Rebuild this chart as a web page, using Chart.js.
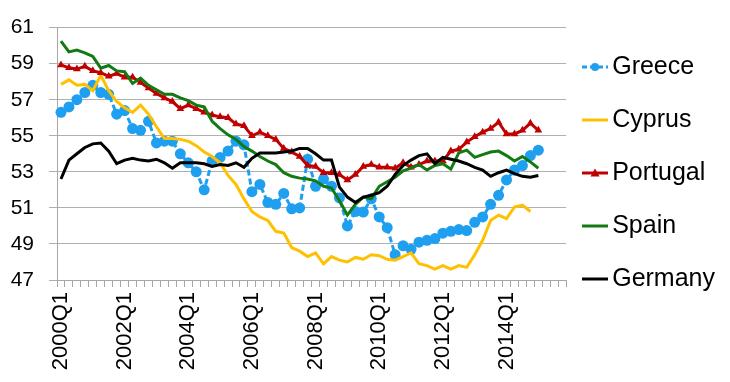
<!DOCTYPE html>
<html>
<head>
<meta charset="utf-8">
<script src="https://cdn.jsdelivr.net/npm/chart.js@4/dist/chart.umd.min.js"></script>
<style>
html,body{margin:0;padding:0;background:#fff;}
#wrap{width:730px;height:382px;}
</style>
</head>
<body>
<div id="wrap"><canvas id="c" width="730" height="382"></canvas></div>
<script>
const categories = [
'2000Q1','2000Q2','2000Q3','2000Q4','2001Q1','2001Q2','2001Q3','2001Q4',
'2002Q1','2002Q2','2002Q3','2002Q4','2003Q1','2003Q2','2003Q3','2003Q4',
'2004Q1','2004Q2','2004Q3','2004Q4','2005Q1','2005Q2','2005Q3','2005Q4',
'2006Q1','2006Q2','2006Q3','2006Q4','2007Q1','2007Q2','2007Q3','2007Q4',
'2008Q1','2008Q2','2008Q3','2008Q4','2009Q1','2009Q2','2009Q3','2009Q4',
'2010Q1','2010Q2','2010Q3','2010Q4','2011Q1','2011Q2','2011Q3','2011Q4',
'2012Q1','2012Q2','2012Q3','2012Q4','2013Q1','2013Q2','2013Q3','2013Q4',
'2014Q1','2014Q2','2014Q3','2014Q4','2015Q1','2015Q2','2015Q3','2015Q4'];
const tickLabels = ['2000Q1','2002Q1','2004Q1','2006Q1','2008Q1','2010Q1','2012Q1','2014Q1'];
const yTicks = [47,49,51,53,55,57,59,61];

const greece = [56.3,56.6,57.0,57.4,57.8,57.4,57.3,56.2,56.4,55.4,55.3,55.8,54.6,54.7,54.7,54.0,
53.5,53.0,52.0,53.6,53.8,54.15,54.7,54.5,51.9,52.3,51.3,51.2,51.8,50.95,51.0,53.7,
52.2,52.6,52.2,51.55,50.0,50.8,50.77,51.5,50.5,49.9,48.4,48.9,48.7,49.1,49.2,49.3,
49.6,49.7,49.8,49.74,50.2,50.5,51.2,51.7,52.55,53.1,53.35,53.9,54.2];
const cyprus = [57.85,58.1,57.8,57.85,57.5,58.35,57.5,56.9,56.55,56.3,56.7,56.2,55.5,54.85,54.85,54.8,
54.7,54.45,54.1,53.85,53.5,52.8,52.3,51.5,50.8,50.5,50.3,49.7,49.6,48.8,48.6,48.3,
48.5,47.9,48.3,48.1,48.0,48.25,48.15,48.4,48.35,48.15,48.1,48.3,48.5,47.9,47.8,47.6,
47.8,47.6,47.8,47.7,48.4,49.2,50.3,50.6,50.4,51.05,51.15,50.8];
const portugal = [58.93,58.77,58.7,58.85,58.6,58.5,58.3,58.45,58.25,58.25,57.95,57.65,57.35,57.1,56.9,56.5,
56.7,56.5,56.3,56.15,56.05,56.0,55.65,55.55,55.0,55.2,55.0,54.8,54.3,54.1,53.85,53.35,
53.3,52.95,52.95,52.85,52.55,52.85,53.3,53.4,53.25,53.25,53.2,53.5,53.25,53.4,53.6,53.6,
53.6,54.15,54.25,54.65,54.95,55.2,55.4,55.75,55.1,55.1,55.3,55.7,55.3];
const spain = [60.25,59.65,59.75,59.6,59.4,58.75,58.9,58.6,58.55,57.9,58.2,57.8,57.55,57.3,57.3,57.1,
56.95,56.7,56.6,55.8,55.4,55.05,54.8,54.4,54.15,53.85,53.6,53.4,52.95,52.75,52.65,52.6,
52.5,52.2,52.1,51.4,50.6,51.2,51.6,51.5,52.2,52.45,52.7,53.05,53.2,53.4,53.1,53.35,
53.45,53.15,54.05,54.2,53.8,53.95,54.1,54.15,53.9,53.6,53.85,53.55,53.2];
const germany = [52.6,53.65,54.0,54.35,54.55,54.6,54.15,53.45,53.65,53.75,53.65,53.6,53.7,53.5,53.2,53.5,
53.5,53.5,53.45,53.3,53.4,53.35,53.5,53.25,53.75,54.05,54.05,54.05,54.1,54.15,54.3,54.3,
54.0,53.65,53.65,52.15,51.6,51.3,51.6,51.7,51.85,52.2,52.85,53.35,53.65,53.9,54.0,53.45,
53.8,53.7,53.6,53.45,53.25,53.1,52.75,52.95,53.1,52.9,52.75,52.7,52.8];

const seriesNames = ['Greece','Cyprus','Portugal','Spain','Germany'];
const seriesColors = ['#1F9FEF','#FFC000','#C00000','#137A13','#000000'];

const FONT = '"Liberation Sans", Arial, sans-serif';
Chart.defaults.color = '#000';
Chart.defaults.font.family = FONT;

function legendImg(color, dash, marker) {
  const c = document.createElement('canvas');
  c.width = 40; c.height = 14;
  const g = c.getContext('2d');
  g.strokeStyle = color; g.fillStyle = color; g.lineWidth = 3;
  if (dash) g.setLineDash(dash);
  g.beginPath(); g.moveTo(5, 7); g.lineTo(31, 7); g.stroke();
  g.setLineDash([]);
  if (marker === 'circle') {
    g.beginPath(); g.arc(18, 7, 4, 0, Math.PI * 2); g.fill();
  } else if (marker === 'triangle') {
    g.beginPath(); g.moveTo(18, 2.5); g.lineTo(22.5, 10.5); g.lineTo(13.5, 10.5); g.closePath(); g.fill();
  }
  return c;
}
const legendImgs = [
  legendImg(seriesColors[0], [5,3], 'circle'),
  legendImg(seriesColors[1], null, null),
  legendImg(seriesColors[2], null, 'triangle'),
  legendImg(seriesColors[3], null, null),
  legendImg(seriesColors[4], null, null)
];

const seriesData = [greece, cyprus, portugal, spain, germany];
const datasets = seriesData.map((d, i) => ({
  label: seriesNames[i],
  data: d,
  borderColor: seriesColors[i],
  backgroundColor: seriesColors[i],
  borderWidth: 3,
  tension: 0,
  fill: false,
  order: 5 - i,
  borderDash: i === 0 ? [6, 3] : [],
  pointStyle: i === 2 ? 'triangle' : 'circle',
  pointRadius: i === 0 ? 5.5 : (i === 2 ? 4.5 : 0),
  pointBorderWidth: 0,
  pointHoverRadius: 0,
  spanGaps: false
}));

new Chart(document.getElementById('c'), {
  type: 'line',
  data: { labels: categories, datasets: datasets },
  options: {
    responsive: false,
    animation: false,
    events: [],
    layout: { padding: { top: 21, left: 0, right: 5, bottom: 0 } },
    plugins: {
      tooltip: { enabled: false },
      legend: {
        position: 'right',
        align: 'start',
        title: { display: true, text: ' ', font: { size: 5, lineHeight: 1.1 }, padding: 0 },
        labels: {
          font: { size: 25, family: FONT },
          color: '#000',
          padding: 28,
          usePointStyle: true,
          pointStyleWidth: 5.5,
          sort: (a, b) => a.datasetIndex - b.datasetIndex,
          generateLabels: (chart) => {
            const items = Chart.defaults.plugins.legend.labels.generateLabels(chart);
            items.forEach(it => { it.pointStyle = legendImgs[it.datasetIndex]; it.fontColor = '#000'; });
            return items;
          }
        }
      }
    },
    scales: {
      x: {
        type: 'category',
        offset: true,
        afterFit: (s) => { s.height = 102; },
        grid: { display: true, drawOnChartArea: false, drawTicks: true, tickLength: 7, offset: true, color: '#A6A6A6', lineWidth: 1 },
        border: { display: true, color: '#A6A6A6', width: 1 },
        ticks: {
          autoSkip: false,
          maxRotation: 90,
          minRotation: 90,
          padding: 5,
          font: { size: 22, family: FONT },
          color: '#000',
          callback: function(v, i) { const l = categories[i]; return tickLabels.includes(l) ? l : ''; }
        }
      },
      y: {
        min: yTicks[0],
        max: yTicks[yTicks.length - 1],
        afterFit: (s) => { s.width = 57; },
        afterBuildTicks: (s) => { s.ticks = yTicks.map(v => ({ value: v })); },
        grid: { color: '#B0B0B0', lineWidth: 1, drawTicks: true, tickLength: 8 },
        border: { display: true, color: '#A6A6A6', width: 1 },
        ticks: { padding: 15, font: { size: 21, family: FONT }, color: '#000' }
      }
    }
  }
});
</script>
</body>
</html>
